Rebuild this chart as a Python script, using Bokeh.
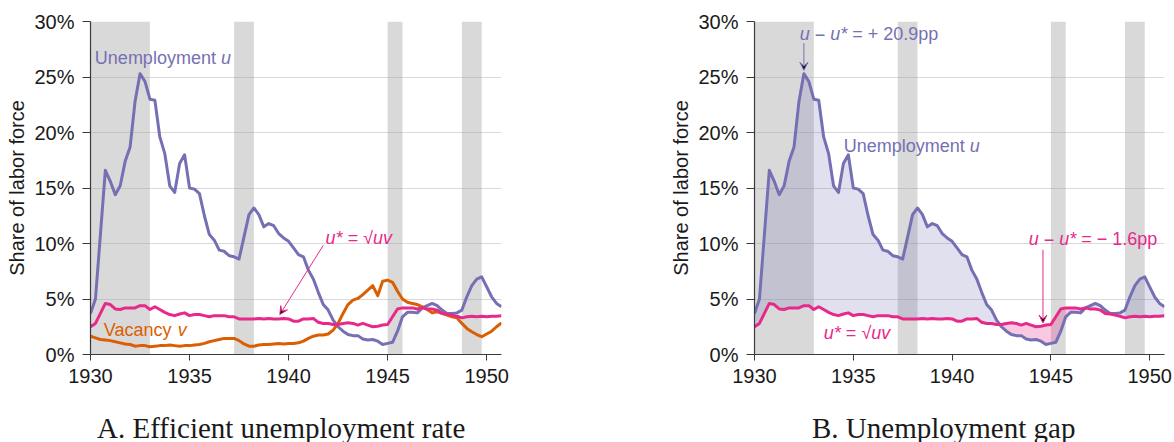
import numpy as np
from bokeh.plotting import figure
from bokeh.layouts import row, column
from bokeh.models import Label, Arrow, VeeHead, FixedTicker, PrintfTickFormatter, Div
from bokeh.embed import file_html
from bokeh.resources import INLINE

# ---------------- data (quarterly, 1930Q1 .. 1950Q4) ----------------
years = [1930 + k / 4 for k in range(84)]

unemployment = [
    3.7, 5.0, 10.8, 16.6,
    15.6, 14.4, 15.2, 17.4,
    18.7, 22.8, 25.3, 24.6,
    23.0, 22.9, 19.6, 18.1,
    15.2, 14.6, 17.2, 18.0,
    15.0, 14.9, 14.5, 12.5,
    10.8, 10.3, 9.4, 9.3,
    8.9, 8.8, 8.6, 10.6,
    12.6, 13.2, 12.6, 11.5,
    11.8, 11.6, 10.9, 10.5,
    10.2, 9.6, 9.0, 8.8,
    7.6, 6.8, 5.6, 4.5,
    4.0, 3.1, 2.5, 2.1,
    1.8, 1.7, 1.7, 1.4,
    1.3, 1.35, 1.2, 0.9,
    1.0, 1.1, 2.1, 3.4,
    3.8, 3.8, 3.75, 4.2,
    4.4, 4.6, 4.4, 4.0,
    3.7, 3.7, 3.75, 4.0,
    5.2, 6.2, 6.8, 7.0,
    6.1, 5.2, 4.6, 4.3,
]

efficient = [
    2.5, 2.8, 3.7, 4.6,
    4.5, 4.1, 4.05, 4.2,
    4.2, 4.2, 4.4, 4.4,
    4.05, 4.3, 4.05, 3.8,
    3.6, 3.5, 3.65, 3.75,
    3.5, 3.6, 3.6, 3.5,
    3.4, 3.5, 3.5, 3.5,
    3.4, 3.4, 3.2, 3.2,
    3.2, 3.2, 3.25, 3.2,
    3.25, 3.2, 3.2, 3.25,
    3.2, 3.0, 3.0, 3.2,
    3.2, 3.25, 2.9, 2.8,
    2.8, 2.7, 2.7, 2.8,
    2.85, 2.8, 2.65, 2.8,
    2.65, 2.5, 2.55, 2.65,
    2.7, 3.4, 4.1, 4.2,
    4.2, 4.2, 4.1, 4.2,
    4.1, 4.1, 4.0, 3.7,
    3.65, 3.55, 3.45, 3.3,
    3.4, 3.45, 3.4, 3.45,
    3.4, 3.45, 3.45, 3.5,
]

vacancy = [
    1.65, 1.5, 1.35, 1.3,
    1.25, 1.15, 1.05, 0.95,
    0.9, 0.75, 0.8, 0.8,
    0.7, 0.75, 0.8, 0.8,
    0.85, 0.8, 0.75, 0.8,
    0.8, 0.85, 0.9, 1.0,
    1.15, 1.25, 1.35, 1.45,
    1.45, 1.45, 1.25, 0.95,
    0.75, 0.75, 0.85, 0.9,
    0.9, 0.95, 1.0, 0.95,
    1.0, 1.0, 1.05, 1.2,
    1.45, 1.65, 1.75, 1.75,
    1.85, 2.2, 2.8, 3.7,
    4.5, 4.9, 5.05, 5.4,
    5.8, 6.2, 5.3, 6.6,
    6.7, 6.5, 5.7, 5.0,
    4.7, 4.6, 4.5, 4.3,
    4.05, 3.75, 3.85, 3.7,
    3.55, 3.4, 3.3, 2.8,
    2.35, 2.05, 1.8, 1.6,
    1.85, 2.1, 2.5, 2.85,
]

recession_start = [1929.6, 1937.25, 1945.0, 1948.75]
recession_end = [1933.0, 1938.25, 1945.75, 1949.75]

x_ticks = [1930, 1935, 1940, 1945, 1950]
y_ticks = [0, 5, 10, 15, 20, 25, 30]

# ---------------- style ----------------
PURPLE = "#7570b3"
PINK = "#e7298a"
ORANGE = "#d95f02"
SANS = "Liberation Sans"
SERIF = "Liberation Serif"
ANN_SIZE = 18

CHAR_W = {' ': 278, 'U': 722, 'n': 556, 'e': 556, 'm': 833, 'p': 556, 'l': 222,
          'o': 556, 'y': 500, 't': 278, 'u': 556, 'V': 667, 'a': 556, 'c': 500,
          'v': 500, '*': 389, '=': 584, '√': 549, '−': 584, '+': 584, '.': 278}
for d in "0123456789":
    CHAR_W[d] = 556


def text_width(s, size):
    return sum(CHAR_W.get(ch, 556) for ch in s) / 1000 * size


def rich_label(p, x, y, parts, color, size=ANN_SIZE):
    off = 0.0
    for txt, italic in parts:
        lead = len(txt) - len(txt.lstrip(" "))
        core = txt.strip(" ")
        off += text_width(" " * lead, size)
        p.add_layout(Label(x=x, y=y, x_offset=off, text=core,
                           text_font=SANS, text_font_size=f"{size}px",
                           text_font_style="italic" if italic else "normal",
                           text_color=color, text_baseline="middle", text_align="left"))
        off += text_width(txt.lstrip(" "), size)


def arrow(p, x0, y0, x1, y1, color):
    p.add_layout(Arrow(end=VeeHead(size=8, line_color=color, line_width=1),
                       x_start=x0, y_start=y0, x_end=x1, y_end=y1,
                       line_color=color, line_width=1))


def make_fig(width, min_left, min_right):
    p = figure(width=width, height=412, x_range=(1930, 1950.75), y_range=(0, 30),
               output_backend="svg", toolbar_location=None,
               min_border_left=min_left, min_border_right=min_right,
               min_border_top=21, min_border_bottom=58)
    p.outline_line_color = None
    p.background_fill_color = "white"
    p.border_fill_color = "white"

    p.quad(left=recession_start, right=recession_end, bottom=0, top=30,
           fill_color="#d9d9d9", line_color=None, level="image")

    p.xgrid.grid_line_color = None
    p.ygrid.ticker = FixedTicker(ticks=y_ticks)
    p.ygrid.grid_line_color = "#a0a0a0"
    p.ygrid.grid_line_alpha = 0.4
    p.ygrid.grid_line_width = 1

    p.xaxis.ticker = FixedTicker(ticks=x_ticks)
    p.yaxis.ticker = FixedTicker(ticks=y_ticks)
    p.yaxis.formatter = PrintfTickFormatter(format="%d%%")
    for ax in (p.xaxis[0], p.yaxis[0]):
        ax.axis_line_color = "#3a3a3a"
        ax.axis_line_width = 1.2
        ax.major_tick_line_color = "#3a3a3a"
        ax.major_tick_in = 0
        ax.minor_tick_line_color = None
        ax.major_label_text_font = SANS
        ax.major_label_text_font_size = "20px"
        ax.major_label_text_color = "#1a1a1a"
    p.xaxis.major_tick_out = 6
    p.xaxis.major_label_standoff = 8
    p.yaxis.major_tick_out = 8
    p.yaxis.major_label_standoff = 8
    p.yaxis.axis_label = "Share of labor force"
    p.yaxis.axis_label_text_font = SANS
    p.yaxis.axis_label_text_font_size = "20px"
    p.yaxis.axis_label_text_font_style = "normal"
    p.yaxis.axis_label_text_color = "#1a1a1a"
    p.yaxis.axis_label_standoff = 3
    return p


def title_div(text, width, pad_left):
    return Div(text=text, width=width, height=30, margin=(0, 0, 0, 0),
               styles={"font-family": SERIF, "font-size": "29px", "color": "#1a1a1a",
                       "padding-left": f"{pad_left}px", "line-height": "normal",
                       "white-space": "nowrap", "box-sizing": "border-box"})


# ---------------- panel A ----------------
pa = make_fig(620, 90, 119)
pa.line(years, unemployment, line_color=PURPLE, line_width=3, line_join="round")
pa.line(years, vacancy, line_color=ORANGE, line_width=3, line_join="round")
pa.line(years, efficient, line_color=PINK, line_width=3, line_join="round")

rich_label(pa, 1930.22, 26.74, [("Unemployment ", False), ("u", True)], PURPLE)
rich_label(pa, 1930.67, 2.19, [("Vacancy ", False), ("v", True)], ORANGE)
rich_label(pa, 1941.87, 10.46, [("u*", True), (" = √", False), ("uv", True)], PINK)
arrow(pa, 1941.75, 9.83, 1939.56, 3.6, PINK)

# ---------------- panel B ----------------
pb = make_fig(554, 134, 10)
u_arr = np.array(unemployment)
e_arr = np.array(efficient)
pb.varea(x=years, y1=e_arr, y2=np.maximum(u_arr, e_arr), fill_color=PURPLE, fill_alpha=0.22)
pb.varea(x=years, y1=np.minimum(u_arr, e_arr), y2=e_arr, fill_color=PINK, fill_alpha=0.25)
pb.line(years, unemployment, line_color=PURPLE, line_width=3, line_join="round")
pb.line(years, efficient, line_color=PINK, line_width=3, line_join="round")

rich_label(pb, 1932.29, 28.87, [("u", True), (" − ", False), ("u*", True), (" = + 20.9pp", False)], PURPLE)
arrow(pb, 1932.5, 28.05, 1932.5, 25.6, PURPLE)
rich_label(pb, 1934.52, 18.8, [("Unemployment ", False), ("u", True)], PURPLE)
rich_label(pb, 1933.51, 1.9, [("u*", True), (" = √", False), ("uv", True)], PINK)
rich_label(pb, 1943.88, 10.37, [("u", True), (" − ", False), ("u*", True), (" = − 1.6pp", False)], PINK)
arrow(pb, 1944.6, 9.44, 1944.6, 2.84, PINK)

ta = title_div("A. Efficient unemployment rate", 620, 97)
tb = title_div("B. Unemployment gap", 554, 192)

layout = column(row(pa, pb), row(ta, tb))
open("out.html", "w").write(file_html(layout, INLINE))
